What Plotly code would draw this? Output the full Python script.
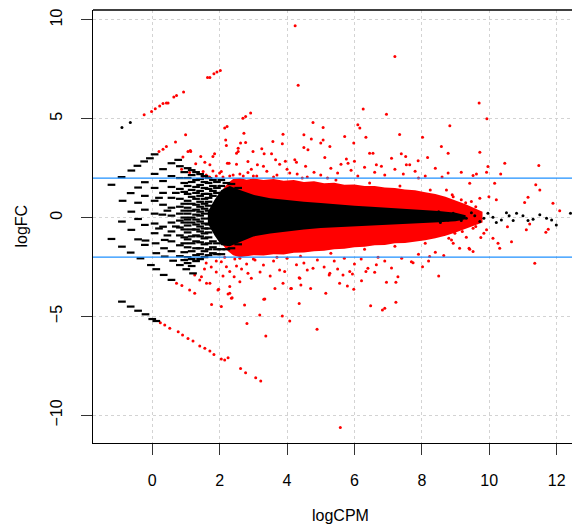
import plotly.graph_objects as go

# dense bands, read as envelopes (logCPM, upper logFC, lower logFC)
red_band_x = [2.1, 2.25, 2.4, 2.6, 2.8, 3.0, 3.3, 3.6, 3.9, 4.2, 4.5, 4.8, 5.1, 5.4, 5.7,
              6.0, 6.3, 6.6, 6.9, 7.2, 7.5, 7.8, 8.1, 8.4, 8.7, 9.0, 9.3, 9.6, 9.8]
red_band_hi = [1.45, 1.75, 1.95, 2.0, 1.92, 1.98, 1.9, 1.95, 1.86, 1.9, 1.8, 1.84, 1.74, 1.76,
               1.66, 1.68, 1.6, 1.6, 1.52, 1.5, 1.42, 1.38, 1.28, 1.2, 1.05, 0.88, 0.68, 0.45, 0.3]
red_band_lo = [-1.4, -1.7, -1.9, -2.0, -1.95, -1.9, -1.92, -1.85, -1.86, -1.78, -1.76, -1.7,
               -1.68, -1.6, -1.58, -1.5, -1.48, -1.4, -1.38, -1.3, -1.28, -1.2, -1.14, -1.05,
               -0.92, -0.75, -0.55, -0.38, -0.25]

core_x = [1.65, 1.85, 2.05, 2.3, 2.6, 3.0, 3.5, 4.0, 4.5, 5.0, 5.5, 6.0, 6.5, 7.0, 7.5, 8.0,
          8.5, 9.0, 9.3]
core_hi = [0.3, 0.9, 1.4, 1.6, 1.4, 1.15, 0.98, 0.88, 0.8, 0.74, 0.66, 0.6, 0.55, 0.5, 0.45,
           0.4, 0.33, 0.24, 0.12]
core_lo = [-0.3, -0.9, -1.4, -1.45, -1.25, -0.95, -0.8, -0.7, -0.6, -0.52, -0.46, -0.42,
           -0.38, -0.35, -0.31, -0.28, -0.24, -0.18, -0.08]

# low-count fan of non-DE genes (black dashes)
fan_pts = [
    (-1.21, 1.66), (-0.91, 2.05), (-0.62, 2.38), (-0.44, 2.62), (-0.24, 2.84), (-0.07, 3.0), (0.07, 3.2),
    (-0.88, 0.85), (-0.64, 1.24), (-0.42, 1.52), (-0.22, 1.79), (0.07, 2.21), (0.32, 2.45), (0.57, 2.75), (0.77, 2.92),
    (-1.21, -1.08), (-0.9, -1.47), (-0.64, -1.77), (-0.35, -2.06), (-0.04, -2.4), (0.12, -2.61), (0.34, -2.9), (0.57, -3.15),
    (-0.22, -1.38), (0.12, -1.8), (0.37, -1.97), (0.62, -2.18), (0.82, -2.4), (1.01, -2.61), (1.21, -2.82),
    (-0.9, -4.25), (-0.64, -4.5), (-0.42, -4.71), (-0.2, -4.89), (0.0, -5.13), (0.12, -5.23),
    (-0.9, -0.2), (-0.62, 0.3), (-0.62, -0.62), (-0.42, 0.75), (-0.42, -0.07), (-0.42, -1.1),
    (-0.22, 1.1), (-0.22, 0.4), (-0.22, -0.37), (-0.2, -1.16),
    (0.07, 1.5), (0.07, 0.85), (0.07, 0.2), (0.07, -0.3), (0.07, -0.79), (0.1, -1.3),
    (0.32, 1.85), (0.32, 1.25), (0.32, 0.65), (0.3, 0.15), (0.32, -0.46), (0.37, -1.13), (0.35, -1.55),
    (0.57, 2.1), (0.57, 1.55), (0.57, 1.0), (0.57, 0.5), (0.57, 0.1), (0.57, -0.25), (0.57, -0.7), (0.57, -1.2), (0.57, -1.7),
    (0.2, 1.0), (0.2, -0.55), (0.45, 0.35), (0.45, -0.9), (0.7, 1.25), (0.7, -0.45),
    (0.82, 2.6), (0.82, 2.0), (0.82, 1.45), (0.82, 0.95), (0.82, 0.55), (0.82, 0.2), (0.82, -0.15), (0.82, -0.5),
    (0.82, -0.9), (0.82, -1.4), (0.82, -1.95),
    (0.95, 2.3), (0.95, 1.75), (0.95, 1.3), (0.95, 0.7), (0.95, 0.35), (0.95, 0.0), (0.95, -0.25), (0.95, -0.6),
    (0.95, -1.0), (0.95, -1.3), (0.95, -1.75), (0.95, -2.15),
    (1.05, 2.5), (1.05, 2.0), (1.05, 1.6), (1.05, 1.2), (1.05, 0.85), (1.05, 0.5), (1.05, 0.2), (1.05, -0.1),
    (1.05, -0.4), (1.05, -0.75), (1.05, -1.1), (1.05, -1.5), (1.05, -2.0), (1.05, -2.3),
    (1.17, 2.4), (1.17, 2.15), (1.17, 1.8), (1.17, 1.4), (1.17, 1.05), (1.17, 0.7), (1.17, 0.35), (1.17, 0.0),
    (1.17, -0.25), (1.17, -0.6), (1.17, -0.95), (1.17, -1.3), (1.17, -1.7), (1.17, -2.1), (1.17, -2.45),
    (1.3, 2.3), (1.3, 1.9), (1.3, 1.55), (1.3, 1.25), (1.3, 0.95), (1.3, 0.65), (1.3, 0.4), (1.3, 0.15), (1.3, -0.1),
    (1.3, -0.35), (1.3, -0.6), (1.3, -0.9), (1.3, -1.2), (1.3, -1.55), (1.3, -1.9), (1.3, -2.2),
    (1.42, 2.2), (1.42, 1.95), (1.42, 1.65), (1.42, 1.35), (1.42, 1.1), (1.42, 0.8), (1.42, 0.55), (1.42, 0.3),
    (1.42, 0.1), (1.42, -0.2), (1.42, -0.45), (1.42, -0.7), (1.42, -0.95), (1.42, -1.25), (1.42, -1.55),
    (1.42, -1.85), (1.42, -2.1),
    (1.55, 2.1), (1.55, 1.8), (1.55, 1.5), (1.55, 1.2), (1.55, 0.95), (1.55, 0.7), (1.55, 0.45),
    (1.55, 0.2), (1.55, -0.05), (1.55, -0.3),
    (1.55, -0.55), (1.55, -0.8), (1.55, -1.05), (1.55, -1.35), (1.55, -1.7), (1.55, -2.0),
    (1.67, 2.0), (1.67, 1.75), (1.67, 1.45), (1.67, 1.2), (1.67, 1.0), (1.67, 0.8), (1.67, 0.6), (1.67, 0.35),
    (1.67, -0.35), (1.67, -0.55), (1.67, -0.75), (1.67, -1.0), (1.67, -1.3), (1.67, -1.6), (1.67, -1.9),
    (1.8, 1.9), (1.8, 1.6), (1.8, 1.35), (1.8, 1.1),
    (1.8, -1.2), (1.8, -1.5), (1.8, -1.8),
    (1.92, 1.8), (1.92, 1.5), (1.92, 1.25), (1.92, -1.3), (1.92, -1.6), (1.92, -1.85),
    (2.05, 1.9), (2.05, 1.6), (2.05, -1.6), (2.05, -1.85),
    (2.2, 1.75), (2.2, -1.6), (2.35, 1.7), (2.35, -1.55), (2.55, 1.5), (2.55, -1.35),
]

# scattered non-DE genes
black_pts = [
    (-0.9, 4.56), (-0.65, 4.81),
    (8.5, 0.3), (8.55, -0.25), (8.63, 0.02), (8.78, -0.12), (8.93, 0.22), (9.03, 0.09), (9.17, -0.15),
    (9.32, -0.03), (9.47, 0.25), (9.57, 0.09), (9.72, -0.2), (9.84, -0.03), (9.96, 0.22), (10.11, 0.02),
    (10.21, -0.25), (10.36, -0.12), (10.51, 0.25), (10.59, 0.09), (10.71, -0.15), (10.81, 0.22), (11.0, 0.09),
    (11.15, -0.15), (11.3, -0.08), (11.5, 0.14), (11.7, -0.03), (11.85, -0.12), (11.99, -0.37), (12.41, 0.22),
]

# DE genes outside the dense band
red_pts = [
    (4.24, 9.7), (7.2, 8.15), (4.33, 6.7),
    (-0.24, 5.2), (-0.02, 5.37), (0.09, 5.5), (0.22, 5.65), (0.32, 5.77), (0.42, 5.79), (0.47, 5.79),
    (0.64, 6.1), (0.72, 6.18), (0.93, 6.35),
    (1.64, 7.09), (1.71, 7.09), (1.83, 7.28), (1.92, 7.36), (2.02, 7.44),
    (0.2, 3.34), (0.32, 3.46), (0.42, 3.6), (0.69, 3.82), (0.99, 4.19),
    (1.06, 3.34), (1.13, 3.39), (2.2, 3.65), (2.18, 3.93), (2.15, 4.53), (2.22, 4.61), (2.69, 5.03),
    (2.77, 5.11), (2.92, 5.29), (2.72, 4.27), (2.77, 3.8), (3.88, 4.22), (3.58, 3.85), (3.86, 3.73),
    (1.14, 3.34), (0.91, 3.06), (1.44, 3.09), (1.29, 2.72), (1.56, 2.8), (1.71, 2.67), (1.8, 3.09),
    (1.85, 3.23), (2.55, 3.34), (2.23, 2.75), (2.5, 2.7), (2.84, 2.84), (2.94, 2.45), (2.05, 2.33),
    (1.8, 2.36), (1.51, 2.33), (1.11, 2.28), (0.87, 2.45),
    (3.25, 3.48), (3.32, 3.23), (3.54, 3.23), (3.66, 2.92), (3.78, 2.7), (2.99, 3.34), (2.5, 3.26),
    (2.55, 3.51), (2.62, 3.77), (3.12, 2.67), (2.28, 2.75), (2.84, 2.28), (4.08, 2.25), (4.23, 2.92),
    (4.77, 4.81), (5.07, 4.56), (4.5, 4.19), (4.72, 3.98), (5.0, 3.77), (5.07, 3.93), (5.27, 3.6),
    (5.71, 4.1), (6.1, 4.69), (6.16, 4.53), (6.26, 5.49), (6.34, 4.07), (5.98, 3.77), (6.95, 5.23),
    (7.34, 4.2), (8.02, 4.07), (8.83, 4.64), (9.7, 5.79), (9.93, 5.0), (9.72, 3.31), (8.58, 3.6),
    (8.78, 3.26), (8.17, 3.04), (7.89, 2.87), (6.45, 3.26), (6.55, 3.26), (7.39, 3.23), (7.52, 3.09),
    (7.1, 3.0), (5.76, 2.96), (5.81, 2.75), (4.28, 2.8), (4.62, 3.43), (4.5, 3.54), (5.12, 3.04),
    (6.65, 2.67), (7.54, 2.67), (7.64, 2.67), (9.96, 2.58), (10.46, 2.75), (10.34, 2.21), (11.47, 2.63),
    (9.17, 2.3), (9.52, 2.13), (9.62, 2.21), (9.92, 2.3), (8.78, 2.25), (10.16, 1.74), (11.38, 1.66),
    (11.5, 1.4), (11.15, 1.03), (11.05, 0.76), (11.89, 0.73), (12.09, 0.35),
    (9.99, 1.06), (9.72, 0.98), (9.47, 0.81), (9.17, 0.9), (8.93, 1.06), (9.42, 1.74), (8.73, 1.4), (10.21, 0.9),
    (3.1, 2.1), (3.4, 2.35), (3.7, 2.15), (4.0, 2.45), (4.3, 2.2), (4.55, 2.6), (4.8, 2.3), (5.0, 2.15),
    (5.3, 2.5), (5.5, 2.25), (5.9, 2.4), (6.1, 2.1), (6.3, 2.55), (6.6, 2.3), (6.9, 2.15), (7.2, 2.45),
    (7.45, 2.2), (7.8, 2.35), (8.1, 2.1), (8.4, 2.5), (8.6, 2.05), (3.3, 2.6), (4.6, 2.05), (5.6, 2.7),
    (6.8, 2.6), (7.9, 2.0), (2.7, 2.1), (3.95, 2.85), (5.2, 2.0), (6.0, 2.85),
    (1.5, 2.0), (1.7, 2.05), (1.9, 2.1), (2.1, 2.05), (2.3, 2.1), (1.6, 2.15), (2.0, 2.25), (2.4, 2.15),
    (2.6, 2.2), (3.0, 2.1), (3.6, 2.05), (4.45, 2.0), (5.45, 1.9), (6.45, 1.75), (7.35, 1.6),
    (8.25, 1.4), (8.9, 1.15), (9.3, 0.75), (9.6, 0.55),
    (0.24, -5.32), (0.37, -5.43), (0.52, -5.6), (0.77, -5.77), (0.9, -5.94), (1.06, -6.11), (1.21, -6.24),
    (1.41, -6.5), (1.56, -6.61), (1.71, -6.75), (1.83, -6.92), (2.05, -7.15), (2.15, -7.2), (2.25, -7.09),
    (2.62, -7.63), (2.77, -7.85), (3.07, -8.1), (3.22, -8.27),
    (0.72, -3.32), (0.88, -3.44), (1.11, -3.66), (1.26, -3.83),
    (1.76, -4.39), (2.05, -4.5), (1.97, -3.63), (2.3, -3.83), (2.74, -4.42), (2.81, -5.35), (3.19, -4.93),
    (3.37, -5.99), (3.34, -4.12), (3.86, -4.98), (4.08, -5.23), (4.36, -4.34),
    (4.89, -5.65), (5.58, -10.61), (6.48, -4.46), (6.83, -4.67), (6.9, -4.59), (7.23, -4.28), (5.15, -3.83),
    (4.7, -3.59), (4.41, -3.41), (4.13, -3.58), (5.56, -3.32), (5.79, -3.46), (5.98, -3.63), (6.21, -3.19),
    (6.95, -3.27), (7.23, -3.27), (8.5, -2.95), (11.35, -2.31), (8.02, -2.48), (7.74, -2.28), (6.65, -2.39),
    (6.34, -2.73), (6.6, -2.76), (5.25, -2.9), (5.66, -2.9), (5.86, -2.73), (5.94, -2.85), (4.77, -2.56),
    (4.28, -2.39), (3.93, -2.73),
    (3.78, -2.65), (4.36, -3.04), (5.27, -2.82), (6.4, -2.56), (7.29, -2.99), (7.69, -2.23), (8.23, -1.97),
    (8.65, -1.92), (9.12, -1.55), (9.4, -1.55), (9.52, -1.72), (8.93, -1.3),
    (11.75, -0.59), (11.68, -0.74), (11.2, -0.32), (11.1, -0.62), (10.66, -1.22), (10.26, -1.3),
    (10.31, -1.55), (10.11, -1.04), (9.75, -1.01), (9.84, -0.79), (9.42, -1.6), (9.32, -0.99), (8.88, -1.13),
    (8.98, -0.79), (10.54, -0.46), (9.92, -0.62), (9.52, -0.54),
    (1.26, -2.9), (1.46, -2.99), (1.71, -3.32), (2.05, -2.23), (2.2, -2.48), (2.3, -2.73), (2.43, -2.99),
    (2.6, -3.24), (2.3, -3.49), (2.37, -4.05), (2.25, -3.86), (2.65, -2.6), (2.84, -2.82), (2.94, -3.07),
    (1.41, -3.15), (1.61, -3.32), (1.95, -3.66), (2.35, -4.08), (3.31, -4.13), (3.64, -3.58), (3.88, -3.32),
    (4.11, -3.58), (4.38, -3.07),
    (3.0, -2.1), (3.3, -2.4), (3.6, -2.2), (4.0, -2.05), (4.5, -2.3), (4.9, -2.15), (5.1, -2.5), (5.4, -2.2),
    (5.7, -2.05), (6.0, -2.35), (6.2, -2.1), (6.9, -2.2), (7.1, -2.55), (7.4, -2.05), (8.2, -2.2),
    (8.4, -1.75), (3.2, -2.75), (4.6, -2.65), (5.5, -2.6), (6.7, -2.0), (7.9, -1.85), (2.8, -2.35), (3.5, -2.95),
    (1.6, -2.3), (1.75, -2.5), (1.9, -2.75), (1.55, -2.6), (1.9, -2.2), (2.1, -2.95), (2.5, -2.45),
    (2.45, -2.1), (2.6, -2.05), (2.15, -2.0), (3.05, -2.15), (3.7, -2.0), (4.4, -1.95),
    (5.3, -1.8), (6.3, -1.6), (7.2, -1.45), (8.1, -1.3), (8.8, -1.05), (9.2, -0.7), (9.6, -0.45),
]

x_ticks = [0, 2, 4, 6, 8, 10, 12]
y_ticks = [-10, -5, 0, 5, 10]
cutoffs = [2, -2]

FONT = dict(family="Liberation Sans, Arial, sans-serif", size=16, color="black")

fig = go.Figure()

fig.add_trace(go.Scatter(
    x=red_band_x + red_band_x[::-1],
    y=red_band_hi + red_band_lo[::-1],
    fill="toself", fillcolor="#FF0000", mode="lines", line=dict(width=0),
    hoverinfo="skip", showlegend=False))

fig.add_trace(go.Scatter(
    x=[p[0] for p in red_pts], y=[p[1] for p in red_pts],
    mode="markers", marker=dict(color="#FF0000", size=3),
    showlegend=False))

fig.add_trace(go.Scatter(
    x=core_x + core_x[::-1],
    y=core_hi + core_lo[::-1],
    fill="toself", fillcolor="black", mode="lines", line=dict(width=0),
    hoverinfo="skip", showlegend=False))

fig.add_trace(go.Scatter(
    x=[p[0] for p in fan_pts], y=[p[1] for p in fan_pts],
    mode="markers",
    marker=dict(symbol="line-ew", size=5.5, line=dict(width=2.2, color="black")),
    showlegend=False))

fig.add_trace(go.Scatter(
    x=[p[0] for p in black_pts], y=[p[1] for p in black_pts],
    mode="markers", marker=dict(color="black", size=3),
    showlegend=False))

for c in cutoffs:
    fig.add_hline(y=c, line=dict(color="#1E90FF", width=1.3))

# top edge of the box (the right edge is cut off in the original)
fig.add_shape(type="line", xref="paper", yref="paper", x0=0, x1=1, y0=1, y1=1,
              line=dict(color="black", width=1.3))

fig.add_annotation(text="logCPM", xref="paper", yref="paper", x=(340 - 93) / 495, y=0,
                   yanchor="middle", yshift=-72, showarrow=False, font=FONT)
fig.add_annotation(text="logFC", xref="paper", yref="paper", x=0, y=0.5, xanchor="center",
                   xshift=-72, textangle=-90, showarrow=False, font=FONT)

fig.update_xaxes(
    range=[-1.758, 12.93], tickvals=x_ticks, ticks="outside", ticklen=11, tickwidth=1.3,
    tickcolor="#333333", showline=True, linecolor="black", linewidth=1.3, zeroline=False,
    showgrid=True, gridcolor="#D3D3D3", griddash="dot", gridwidth=1, automargin=False,
    tickfont=FONT, ticklabelstandoff=12)
fig.update_yaxes(
    range=[-11.4, 10.5], tickvals=y_ticks, ticks="outside", ticklen=11, tickwidth=1.3,
    tickcolor="#333333", showline=True, linecolor="black", linewidth=1.3, zeroline=False,
    showgrid=True, gridcolor="#D3D3D3", griddash="dot", gridwidth=1, automargin=False,
    tickangle=-90, tickfont=FONT, ticklabelstandoff=12)

# the page adds an 8px body margin, so the figure is laid out 8px up and left
fig.update_layout(
    width=580, height=529,
    margin=dict(l=85, r=0, t=2, b=94, autoexpand=False),
    plot_bgcolor="white", paper_bgcolor="white",
    font=FONT, showlegend=False)

fig.write_html("out.html")
